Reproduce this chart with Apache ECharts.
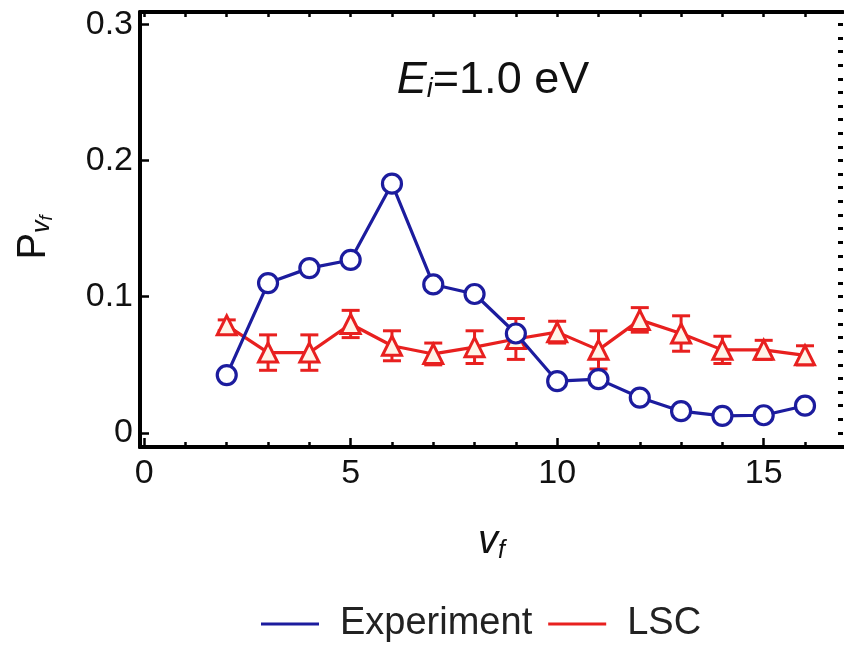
<!DOCTYPE html>
<html>
<head>
<meta charset="utf-8">
<script src="https://cdn.jsdelivr.net/npm/echarts@6/dist/echarts.min.js"></script>
<style>html,body{margin:0;padding:0;background:#fff}#c{width:844px;height:654px}</style>
</head>
<body>
<div id="c"></div>
<script>
// ---- data ----
const vf = [2, 3, 4, 5, 6, 7, 8, 9, 10, 11, 12, 13, 14, 15, 16];
const experiment = [0.0425, 0.110, 0.121, 0.127, 0.183, 0.109, 0.102, 0.073, 0.038, 0.0395, 0.026, 0.016, 0.0125, 0.013, 0.020];
const lsc = [0.079, 0.059, 0.059, 0.080, 0.064, 0.058, 0.063, 0.069, 0.074, 0.061, 0.083, 0.073, 0.061, 0.061, 0.057];
const lscErr = [0.004, 0.013, 0.013, 0.010, 0.011, 0.008, 0.012, 0.015, 0.008, 0.014, 0.009, 0.013, 0.010, 0.007, 0.007];
const xTickLabels = [0, 5, 10, 15];
const xMinorTicks = [0, 1, 2, 3, 4, 5, 6, 7, 8, 9, 10, 11, 12, 13, 14, 15, 16];
const yTickLabels = [0, 0.1, 0.2, 0.3];
const yMinorTicks = [];
for (let i = 0; i <= 30; i++) yMinorTicks.push(+(i / 100).toFixed(2));

const BLUE = '#1c1c9e';
const RED = '#e8201f';
const FONT = 'Liberation Sans, Arial, sans-serif';

const X_MIN = -0.1, X_MAX = 16.92, Y_MIN = -0.0103, Y_MAX = 0.309;

const chart = echarts.init(document.getElementById('c'));

const baseX = {
  type: 'value', min: X_MIN, max: X_MAX, splitLine: { show: false },
  axisLine: { show: true, onZero: false, lineStyle: { color: '#000', width: 4 } }
};
const baseY = {
  type: 'value', min: Y_MIN, max: Y_MAX, splitLine: { show: false },
  axisLine: { show: true, onZero: false, lineStyle: { color: '#000', width: 4 } }
};

chart.setOption({
  animation: false,
  backgroundColor: '#fff',
  grid: { left: 140, right: 1, top: 12, bottom: 207, containLabel: false },
  title: {
    text: '{e|E}{s|i}{n|=1.0 eV}',
    left: 488, top: 53, textAlign: 'center',
    textStyle: {
      fontWeight: 'normal',
      rich: {
        e: { fontFamily: FONT, fontSize: 45, fontStyle: 'italic', fontWeight: 'normal', color: '#111' },
        s: { fontFamily: FONT, fontSize: 27, fontStyle: 'italic', fontWeight: 'normal', color: '#111', padding: [17, 0, 0, 0] },
        n: { fontFamily: FONT, fontSize: 45, fontWeight: 'normal', color: '#111' }
      }
    }
  },
  legend: {
    bottom: 6, left: 256,
    itemWidth: 58, itemHeight: 3, itemGap: 16,
    data: [
      { name: 'Experiment', icon: 'rect', itemStyle: { color: BLUE, borderWidth: 0 } },
      { name: 'LSC', icon: 'rect', itemStyle: { color: RED, borderWidth: 0 } }
    ],
    textStyle: { fontFamily: FONT, fontSize: 38, color: '#222', padding: [0, 0, 0, 16] }
  },
  xAxis: [
    Object.assign({}, baseX, {
      position: 'bottom',
      name: '{v|v}{f|f}', nameLocation: 'middle', nameGap: 72,
      nameTextStyle: {
        rich: {
          v: { fontFamily: FONT, fontSize: 40, fontStyle: 'italic', color: '#111' },
          f: { fontFamily: FONT, fontSize: 25, fontStyle: 'italic', color: '#111', padding: [20, 0, 0, 0] }
        }
      },
      axisTick: { show: true, inside: true, length: 9, customValues: xTickLabels, lineStyle: { color: '#000', width: 2.5 } },
      axisLabel: { show: true, margin: 10, customValues: xTickLabels, fontFamily: FONT, fontSize: 34, color: '#111' }
    }),
    Object.assign({}, baseX, {
      position: 'bottom',
      axisTick: { show: true, inside: true, length: 5, customValues: xMinorTicks, lineStyle: { color: '#000', width: 2.5 } },
      axisLabel: { show: false }
    }),
    Object.assign({}, baseX, {
      position: 'top',
      axisTick: { show: true, inside: true, length: 5, customValues: xMinorTicks, lineStyle: { color: '#000', width: 2.5 } },
      axisLabel: { show: false }
    })
  ],
  yAxis: [
    Object.assign({}, baseY, {
      position: 'left',
      name: '{p|P}{v|v}{f|f}', nameLocation: 'middle', nameGap: 84, nameRotate: 90,
      nameTextStyle: {
        padding: [0, 16, 0, 0],
        rich: {
          p: { fontFamily: FONT, fontSize: 40, color: '#111' },
          v: { fontFamily: FONT, fontSize: 25, fontStyle: 'italic', color: '#111', padding: [18, 0, 0, 0] },
          f: { fontFamily: FONT, fontSize: 18, fontStyle: 'italic', color: '#111', padding: [27, 0, 0, 0] }
        }
      },
      axisTick: { show: true, inside: true, length: 9, customValues: yTickLabels, lineStyle: { color: '#000', width: 2.5 } },
      axisLabel: {
        show: true, margin: 7, customValues: yTickLabels, fontFamily: FONT, fontSize: 34, color: '#111',
        formatter: v => (v === 0 ? '0' : String(+v.toFixed(1)))
      }
    }),
    Object.assign({}, baseY, {
      position: 'right',
      axisLine: { show: false, onZero: false },
      axisTick: { show: true, inside: true, length: 5, customValues: yMinorTicks, lineStyle: { color: '#000', width: 3 } },
      axisLabel: { show: false }
    })
  ],
  series: [
    {
      name: 'LSC-err', type: 'custom', xAxisIndex: 0, yAxisIndex: 0, z: 3,
      data: vf.map((x, i) => [x, lsc[i], lscErr[i]]),
      renderItem: function (params, api) {
        const x = api.value(0), y = api.value(1), e = api.value(2);
        const t = api.coord([x, y + e]);
        const b = api.coord([x, y - e]);
        const hw = 9;
        const st = { stroke: RED, lineWidth: 3 };
        return {
          type: 'group',
          children: [
            { type: 'line', shape: { x1: t[0], y1: t[1], x2: b[0], y2: b[1] }, style: st },
            { type: 'line', shape: { x1: t[0] - hw, y1: t[1], x2: t[0] + hw, y2: t[1] }, style: st },
            { type: 'line', shape: { x1: b[0] - hw, y1: b[1], x2: b[0] + hw, y2: b[1] }, style: st }
          ]
        };
      }
    },
    {
      name: 'LSC', type: 'line', z: 4,
      data: vf.map((x, i) => [x, lsc[i]]),
      symbol: 'triangle', symbolSize: 19, showAllSymbol: true,
      lineStyle: { color: RED, width: 3.2 },
      itemStyle: { color: '#fff4e8', borderColor: RED, borderWidth: 3 },
      color: RED
    },
    {
      name: 'Experiment', type: 'line', z: 5,
      data: vf.map((x, i) => [x, experiment[i]]),
      symbol: 'circle', symbolSize: 19, showAllSymbol: true,
      lineStyle: { color: BLUE, width: 3.2 },
      itemStyle: { color: '#ffffff', borderColor: BLUE, borderWidth: 3.2 },
      color: BLUE
    }
  ]
});
</script>
</body>
</html>
